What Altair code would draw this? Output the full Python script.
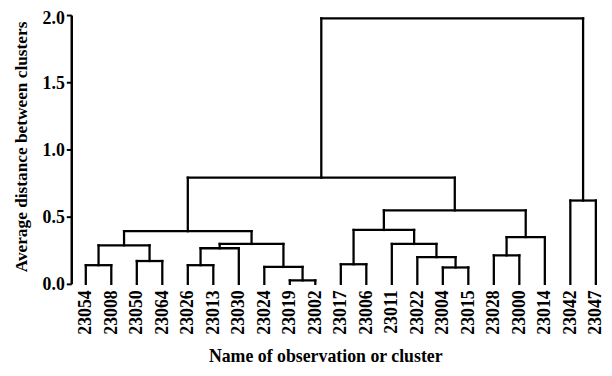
import json
import altair as alt
import pandas as pd

# Leaves in dendrogram order
leaves = ["23054", "23008", "23050", "23064", "23026", "23013", "23030",
          "23024", "23019", "23002", "23017", "23006", "23011", "23022",
          "23004", "23015", "23028", "23000", "23014", "23042", "23047"]

# Merges: node ids 0..20 are leaves, 21.. are clusters created in order
merge_left = [0, 2, 21, 4, 24, 8, 7, 25, 23, 10, 14, 13, 12, 30, 16, 35, 34, 29, 19, 38]
merge_right = [1, 3, 22, 5, 6, 9, 26, 27, 28, 11, 15, 31, 32, 33, 17, 18, 36, 37, 20, 39]
merge_height = [0.139, 0.170, 0.287, 0.139, 0.265, 0.026, 0.126, 0.297, 0.392,
                0.146, 0.122, 0.199, 0.297, 0.401, 0.212, 0.348, 0.547, 0.790,
                0.620, 1.975]

y_ticks = [0.0, 0.5, 1.0, 1.5, 2.0]

n = len(leaves)
pos = {i: float(i) for i in range(n)}
hgt = {i: 0.0 for i in range(n)}
rows = []
for k, (a, b, h) in enumerate(zip(merge_left, merge_right, merge_height)):
    node = n + k
    rows.append(dict(x=pos[a], x2=pos[b], y=h, y2=h))
    rows.append(dict(x=pos[a], x2=pos[a], y=hgt[a], y2=h))
    rows.append(dict(x=pos[b], x2=pos[b], y=hgt[b], y2=h))
    pos[node] = (pos[a] + pos[b]) / 2
    hgt[node] = h
df = pd.DataFrame(rows)

FONT = "Liberation Serif"
label_expr = json.dumps(leaves) + "[datum.value]"

chart = alt.Chart(df).mark_rule(color="black", strokeWidth=2.3, strokeCap="square").encode(
    x=alt.X("x:Q",
            scale=alt.Scale(domain=[-0.57, 20.32], nice=False, zero=False),
            axis=alt.Axis(values=list(range(n)), labelExpr=label_expr,
                          labelAngle=270, labelFont=FONT, labelFontSize=18,
                          labelFontWeight="bold", labelColor="black",
                          labelOverlap=False, labelFlush=False,
                          ticks=False, tickSize=0, domain=False, grid=False,
                          labelPadding=6,
                          title="Name of observation or cluster",
                          titleFont=FONT, titleFontSize=18, titleFontWeight="bold",
                          titleColor="black", titleX=257, titleY=79,
                          titleAlign="center", titleBaseline="alphabetic")),
    x2="x2:Q",
    y=alt.Y("y:Q",
            scale=alt.Scale(domain=[0, 2], nice=False),
            axis=alt.Axis(values=y_ticks, format=".1f", labelFont=FONT,
                          labelFontSize=18, labelFontWeight="bold",
                          labelColor="black", tickSize=5, tickWidth=2,
                          tickColor="black", domainColor="black",
                          domainWidth=2.5, labelPadding=2,
                          labelOffset={"condition": {"test": "datum.value == 2", "value": 4},
                                       "value": 1},
                          grid=False,
                          title="Average distance between clusters",
                          titleFont=FONT, titleFontSize=17.5, titleFontWeight="bold",
                          titleColor="black", titleX=-50, titleY=133,
                          titleAlign="center", titleBaseline="middle")),
    y2="y2:Q",
).properties(
    width=539, height=272,
    autosize=alt.AutoSizeParams(type="none"),
    padding={"left": 64, "top": 5, "right": 0, "bottom": 83},
    background="white",
).configure_view(stroke=None)

chart.save("out.html", embed_options={"renderer": "svg", "actions": False})
